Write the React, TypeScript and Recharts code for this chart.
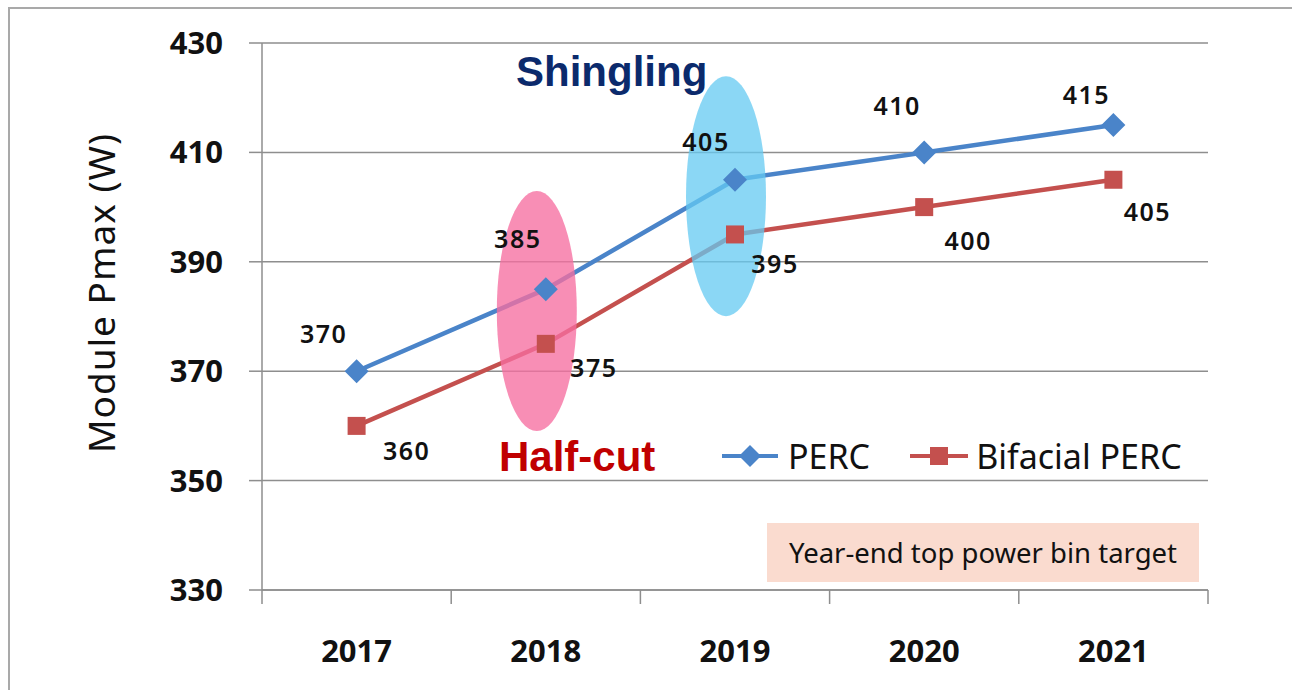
import { LineChart, Line, XAxis, YAxis, CartesianGrid, LabelList, ReferenceDot } from 'recharts';

const years = ['2017', '2018', '2019', '2020', '2021'];
const perc = [370, 385, 405, 410, 415];
const bifacialPerc = [360, 375, 395, 400, 405];
const yTicks = [330, 350, 370, 390, 410, 430];

const data = years.map((year, i) => ({ year, perc: perc[i], bifacial: bifacialPerc[i] }));

const BLUE = '#4a84c9';
const RED = '#c4504e';
const GRID = '#8e8e8e';
const FONT = '"Noto Sans", "Open Sans", sans-serif';

const PLOT_W = 946;
const HALF_BAND = PLOT_W / years.length / 2;

// label nudges, roughly where they sit in the original slide
const percOffsets = [[-33, -38], [-28, -51], [-29, -39], [-27, -47], [-27, -31]];
const bifacialOffsets = [[50, 24], [48, 23], [40, 29], [44, 33], [34, 31]];

const Diamond = ({ cx, cy }: any) =>
  cx == null ? null : (
    <polygon points={`${cx},${cy - 12} ${cx + 12},${cy} ${cx},${cy + 12} ${cx - 12},${cy}`} fill={BLUE} />
  );

const Square = ({ cx, cy }: any) =>
  cx == null ? null : <rect x={cx - 9} y={cy - 9} width={18} height={18} fill={RED} />;

const makeLabel = (offsets: number[][]) => (props: any) => {
  const { x, y, value, index } = props;
  const [dx, dy] = offsets[index] || [0, 0];
  return (
    <text x={x + dx} y={y + dy} textAnchor="middle" dominantBaseline="central"
      fontFamily={FONT} fontWeight={600} fontSize={25} letterSpacing={1.5} fill="#111">
      {value}
    </text>
  );
};

const XTick = ({ x, y, payload, index }: any) => (
  <g>
    <line x1={x - HALF_BAND} y1={y - 8} x2={x - HALF_BAND} y2={y + 6} stroke={GRID} strokeWidth={1.5} />
    {index === years.length - 1 && (
      <line x1={x + HALF_BAND} y1={y - 8} x2={x + HALF_BAND} y2={y + 6} stroke={GRID} strokeWidth={1.5} />
    )}
    <text x={x} y={y + 64} textAnchor="middle" fontFamily={FONT} fontWeight={700} fontSize={31} fill="#111">
      {payload.value}
    </text>
  </g>
);

const YLabel = () => (
  <text x={100} y={293} transform="rotate(-90, 100, 293)" textAnchor="middle" dominantBaseline="central"
    fontFamily={FONT} fontSize={37} letterSpacing={1} fill="#111">
    Module Pmax (W)
  </text>
);

const Ellipse = (color: string) => ({ cx, cy }: any) =>
  cx == null ? null : <ellipse cx={cx - 9} cy={cy} rx={40} ry={120} fill={color} />;

const LegendBox = () => (
  <div style={{ display: 'flex', alignItems: 'center', fontFamily: FONT, fontSize: 34, color: '#111' }}>
    <svg width={60} height={30}>
      <line x1={2} y1={15} x2={58} y2={15} stroke={BLUE} strokeWidth={4} />
      <polygon points="30,4 41,15 30,26 19,15" fill={BLUE} />
    </svg>
    <span style={{ marginLeft: 8, marginRight: 38 }}>PERC</span>
    <svg width={62} height={30}>
      <line x1={2} y1={15} x2={60} y2={15} stroke={RED} strokeWidth={4} />
      <rect x={22} y={6} width={18} height={18} fill={RED} />
    </svg>
    <span style={{ marginLeft: 6 }}>Bifacial PERC</span>
  </div>
);

export default function App() {
  return (
    <div style={{ position: 'absolute', left: 0, top: 0, width: 1292, height: 690, overflow: 'hidden', background: '#fff' }}>
      <div style={{ position: 'absolute', left: 8, top: 7, width: 1310, height: 710, border: '2px solid #a9a9a9' }} />
      <LineChart width={1292} height={690} data={data} margin={{ top: 43, right: 84, bottom: 40, left: 162 }}>
        <CartesianGrid vertical={false} stroke={GRID} strokeWidth={1.5} />
        <XAxis
          dataKey="year"
          height={60}
          padding={{ left: HALF_BAND, right: HALF_BAND }}
          axisLine={{ stroke: GRID, strokeWidth: 1.5 }}
          tickLine={false}
          tick={<XTick />}
          interval={0}
        />
        <YAxis
          width={100}
          domain={[330, 430]}
          ticks={yTicks}
          interval={0}
          axisLine={{ stroke: GRID, strokeWidth: 1.5 }}
          tickLine={{ stroke: GRID, strokeWidth: 1.5 }}
          tickSize={13}
          tickMargin={26}
          tick={{ fontFamily: FONT, fontWeight: 700, fontSize: 31, fill: '#111' }}
          label={<YLabel />}
        />
        <YAxis
          yAxisId="frame"
          orientation="right"
          width={0}
          domain={[330, 430]}
          tick={false}
          tickLine={false}
          axisLine={{ stroke: GRID, strokeWidth: 1.5 }}
        />
        <Line
          dataKey="perc"
          name="PERC"
          stroke={BLUE}
          strokeWidth={4.5}
          dot={<Diamond />}
          activeDot={false}
          isAnimationActive={false}
        >
          <LabelList dataKey="perc" content={makeLabel(percOffsets)} />
        </Line>
        <Line
          dataKey="bifacial"
          name="Bifacial PERC"
          stroke={RED}
          strokeWidth={4.5}
          dot={<Square />}
          activeDot={false}
          isAnimationActive={false}
        >
          <LabelList dataKey="bifacial" content={makeLabel(bifacialOffsets)} />
        </Line>
        <ReferenceDot x="2018" y={381} r={0} shape={Ellipse('rgba(246, 110, 160, 0.78)')} zIndex={450} />
        <ReferenceDot x="2019" y={402} r={0} shape={Ellipse('rgba(100, 202, 242, 0.75)')} zIndex={450} />
      </LineChart>
      <div style={{ position: 'absolute', left: 720, top: 433 }}>
        <LegendBox />
      </div>
      <div style={{ position: 'absolute', left: 516, top: 47, fontFamily: '"Liberation Sans", Arial, sans-serif', fontWeight: 700, fontSize: 42, color: '#0b2a6c', lineHeight: '50px' }}>
        Shingling
      </div>
      <div style={{ position: 'absolute', left: 499, top: 432, fontFamily: '"Liberation Sans", Arial, sans-serif', fontWeight: 700, fontSize: 42, color: '#c00000', lineHeight: '50px' }}>
        Half-cut
      </div>
      <div style={{
        position: 'absolute', left: 767, top: 523, width: 432, height: 59, background: '#fadbcf',
        display: 'flex', alignItems: 'center', justifyContent: 'center',
        fontFamily: FONT, fontSize: 27.5, color: '#111',
      }}>
        Year-end top power bin target
      </div>
    </div>
  );
}
